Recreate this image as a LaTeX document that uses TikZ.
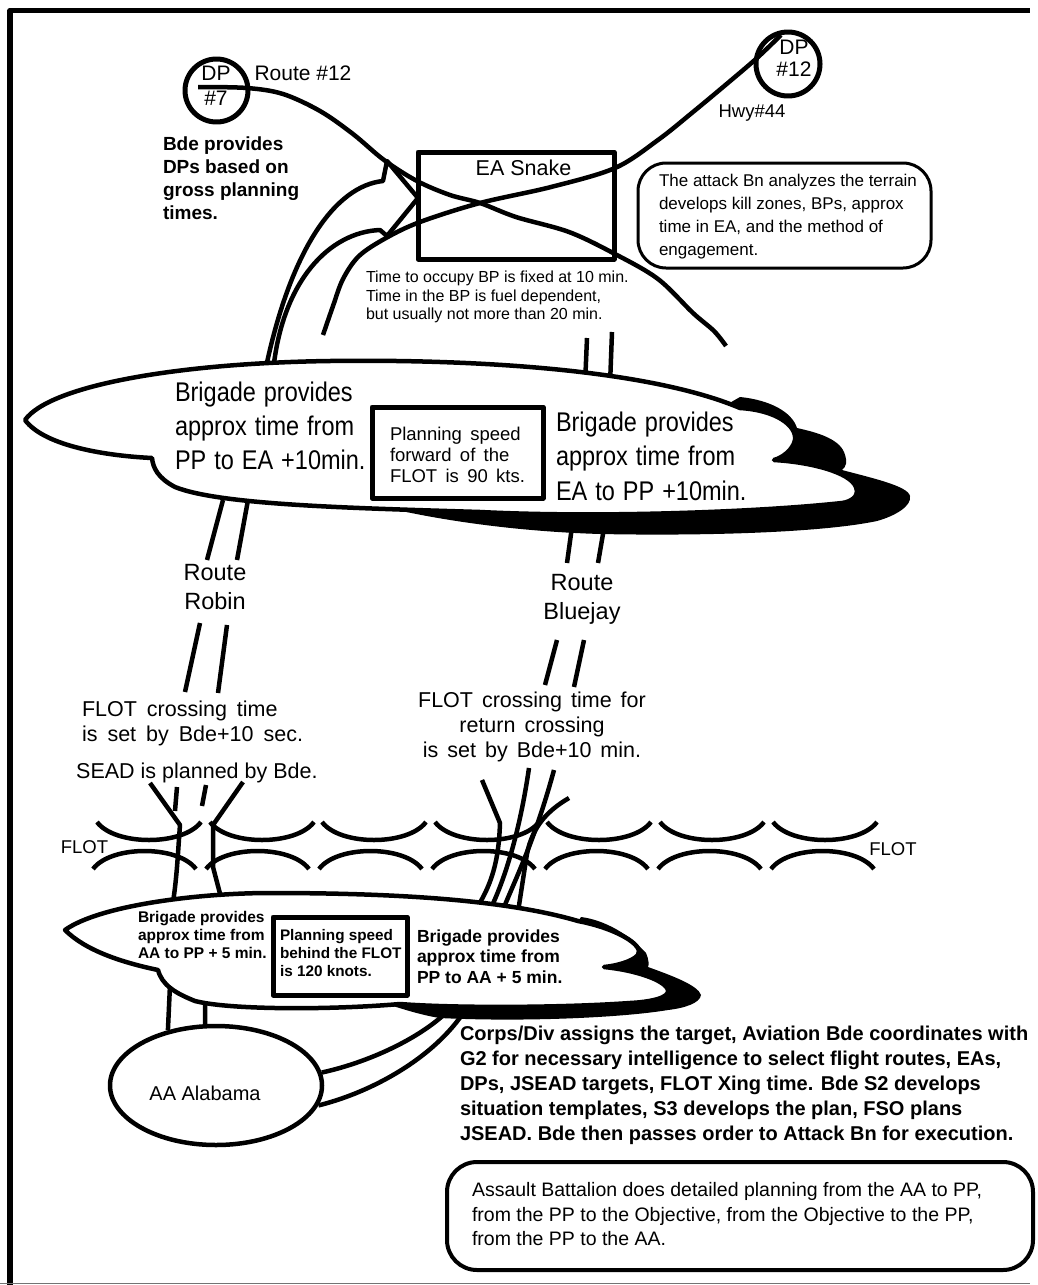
\documentclass[tikz,border=0pt]{standalone}
\usepackage{fontspec}
\setmainfont{Liberation Sans}
\newfontfamily\condfont[FakeStretch=0.87]{Liberation Sans}
\usetikzlibrary{shapes.geometric}
\newcommand\myfs[2]{\fontsize{#1pt}{#2pt}\selectfont}
\newcommand\widesp{\spaceskip=0.45em plus 0.1em\relax}
\begin{document}
\begin{tikzpicture}[x=1pt,y=-1pt,line join=round,
  ln/.style={line width=4.5pt},
  txt/.style={inner sep=0pt,outer sep=0pt,align=left,anchor=west,execute at begin node=\strut,execute at end node=\strut},
  ctxt/.style={inner sep=0pt,outer sep=0pt,align=center,execute at begin node=\strut,execute at end node=\strut},
  btxt/.style={inner sep=0pt,outer sep=0pt,anchor=base},
  boxnode/.style={draw,line width=5pt,inner sep=0pt,fill=white}]
\path[use as bounding box,fill=white] (0,0) rectangle (1037,1285);
% frame
\draw[line width=5.5pt] (10,1285) -- (10,10.5) -- (1030,10.5);
\draw[line width=1.5pt,black!55] (0,1283.5) -- (1030,1283.5);

% ---------- top routes ----------
\coordinate (r12a) at (198,87);
\coordinate (r12b) at (726,346);
\coordinate (hwya) at (781,35);
\coordinate (hwyb) at (323,335);
\draw[ln] plot[smooth,tension=0.55] coordinates {(r12a) (247,88) (283,94) (320,111) (353,134) (384,160) (417,181) (450,195) (480,203) (516,217) (569,232) (615,254) (658,279) (693,313) (714,331) (r12b)};
\draw[ln] plot[smooth,tension=0.55] coordinates {(hwya) (757,58) (729,82) (693,112) (658,140) (615,168) (551,187) (480,203) (420,222) (386,238) (359,256) (343,279) (333,306) (hwyb)};

% open arrow toward EA
\coordinate (arrtip) at (418,198);
\coordinate (arrU) at (387,161);
\coordinate (arrUb) at (383,181);
\coordinate (arrL) at (387,236);
\coordinate (arrLb) at (380,230);
\coordinate (arrE1) at (265,372);
\coordinate (arrE2) at (273,372);
\draw[ln] (arrE1) .. controls (290,250) and (335,186) .. (arrUb) -- (arrU) -- (arrtip) -- (arrL) -- (arrLb) .. controls (330,232) and (282,280) .. (arrE2);

% short route lines touching the big cloud
\coordinate (bq1a) at (587,338); \coordinate (bq1b) at (585,385);
\coordinate (bq2a) at (612,332); \coordinate (bq2b) at (610,385);
\draw[ln] (bq1a) -- (bq1b);
\draw[ln] (bq2a) -- (bq2b);
\coordinate (rb1a) at (223,500); \coordinate (rb1b) at (207,560);
\coordinate (rb2a) at (248,500); \coordinate (rb2b) at (237,560);
\draw[ln] (rb1a) -- (rb1b);
\draw[ln] (rb2a) -- (rb2b);
\coordinate (bj1a) at (575,505); \coordinate (bj1b) at (567,563);
\coordinate (bj2a) at (608,505); \coordinate (bj2b) at (598,563);
\draw[ln] (bj1a) -- (bj1b);
\draw[ln] (bj2a) -- (bj2b);
% lower route dashes
\coordinate (rb3a) at (200,623); \coordinate (rb3b) at (185,692);
\coordinate (rb4a) at (227,625); \coordinate (rb4b) at (218,693);
\draw[ln] (rb3a) -- (rb3b);
\draw[ln] (rb4a) -- (rb4b);
\coordinate (bj3a) at (557,640); \coordinate (bj3b) at (545,685);
\coordinate (bj4a) at (584,640); \coordinate (bj4b) at (574,687);
\draw[ln] (bj3a) -- (bj3b);
\draw[ln] (bj4a) -- (bj4b);

% ---------- big cloud ----------
\fill[black] (700,420) -- (740,397) .. controls (770,400) and (792,412) .. (797,428) .. controls (815,432) and (838,438) .. (844,452) .. controls (848,462) and (846,467) .. (842,470) .. controls (872,478) and (908,486) .. (910,496) .. controls (912,506) and (895,516) .. (877,521) .. controls (820,533) and (700,536) .. (600,534) .. controls (500,531) and (420,516) .. (380,506) -- (600,480) -- cycle;
\filldraw[fill=white,line width=4.5pt] (25,420) .. controls (50,385) and (180,363) .. (330,361) .. controls (480,359) and (650,370) .. (740,408) .. controls (775,410) and (797,425) .. (795,440) .. controls (793,450) and (782,458) .. (774,460) .. controls (810,462) and (850,472) .. (856,487) .. controls (860,497) and (850,502) .. (842,503) .. controls (760,512) and (600,518) .. (480,512) .. controls (350,508) and (220,505) .. (175,487) .. controls (158,478) and (153,468) .. (152,458) .. controls (110,456) and (45,447) .. (25,420) -- cycle;

% ---------- FLOT ----------
\foreach \l in {97,210,322,435,547,660,773} {
  \draw[ln] (\l,822) .. controls ({\l+18},846) and ({\l+86},846) .. ({\l+104},822);
}
\foreach \l in {93,206,319,432,545,658,771} {
  \draw[ln] (\l,869) .. controls ({\l+18},845) and ({\l+85},845) .. ({\l+103},869);
}
% SEAD / crossing lines (left)
\coordinate (sAa) at (150,783); \coordinate (sAb) at (172,908);
\draw[ln] (sAa) -- (180,825) .. controls (178,850) and (177,880) .. (sAb);
\coordinate (sBa) at (177,787); \coordinate (sBb) at (175,811);
\draw[ln] (sBa) -- (sBb);
\coordinate (sCa) at (206,785); \coordinate (sCb) at (202,806);
\draw[ln] (sCa) -- (sCb);
\coordinate (sDa) at (243,782); \coordinate (sDb) at (223,905);
\draw[ln] (sDa) -- (213,825) -- (213,867) -- (sDb);
% crossing lines (right)
\coordinate (cEa) at (482,780); \coordinate (cEb) at (474,912);
\draw[ln] (cEa) -- (500,823) .. controls (499,850) and (496,880) .. (cEb);
\coordinate (cFa) at (529,768); \coordinate (cFb) at (489,912);
\draw[ln] (cFa) .. controls (520,830) and (505,880) .. (cFb);
\coordinate (cGa) at (554,770); \coordinate (cGb) at (502,912);
\draw[ln] (cGa) .. controls (535,840) and (515,880) .. (cGb);
\coordinate (cHa) at (569,798); \coordinate (cHb) at (518,912);
\draw[ln] (cHa) .. controls (545,812) and (530,830) .. (526,860) -- (cHb);

% ---------- AA Alabama and its links ----------
\node[draw,ellipse,line width=4.5pt,minimum width=212pt,minimum height=119pt,inner sep=0pt] (aa) at (216,1085.5) {};
\coordinate (aal1) at (170,985); \coordinate (aal2) at (205,995);
\draw[ln] (aa.131) -- (aal1);
\draw[ln] (aa.100) -- (aal2);
\coordinate (aac1) at (458,1000); \coordinate (aac2) at (471,1000);
\draw[ln] (aa.7) .. controls (370,1062) and (430,1035) .. (aac1);
\draw[ln] (aa.-11) .. controls (380,1090) and (445,1050) .. (aac2);

% ---------- small cloud ----------
\fill[black] (560,950) -- (581,917) .. controls (605,920) and (630,935) .. (646,953) .. controls (649,960) and (649,965) .. (648,967) .. controls (670,975) and (698,985) .. (701,995) .. controls (700,1003) and (685,1008) .. (668,1010) .. controls (620,1018) and (520,1022) .. (440,1018) .. controls (420,1015) and (400,1008) .. (383,1003) -- (500,980) -- cycle;
\filldraw[fill=white,line width=4.5pt] (65,930) .. controls (100,905) and (200,893) .. (270,893) .. controls (380,893) and (500,898) .. (578,921) .. controls (615,928) and (645,945) .. (638,955) .. controls (632,962) and (615,966) .. (604,967) .. controls (635,970) and (665,980) .. (668,990) .. controls (670,998) and (650,1002) .. (630,1003) .. controls (560,1008) and (450,1008) .. (400,1004) .. controls (330,1010) and (230,1010) .. (195,1001) .. controls (175,993) and (162,985) .. (158,970) .. controls (120,962) and (85,950) .. (65,930) -- cycle;

% ---------- boxes and circles ----------
\node[draw,line width=5pt,minimum width=196pt,minimum height=107pt,inner sep=0pt] (easnake) at (516,205.5) {};
\node[draw,circle,line width=5pt,minimum size=63pt,inner sep=0pt] (dp7) at (216.5,90.5) {};
\node[draw,circle,line width=5pt,minimum size=64pt,inner sep=0pt] (dp12) at (788,64) {};
\node[draw,line width=3pt,rounded corners=28pt,minimum width=293pt,minimum height=105pt,inner sep=0pt] (attackbox) at (784.5,215.5) {};
\node[boxnode,minimum width=171pt,minimum height=91pt] (fwdbox) at (457.5,452.5) {};
\node[boxnode,minimum width=134pt,minimum height=78pt] (behindbox) at (340,956) {};
\node[draw,line width=4pt,rounded corners=30pt,minimum width=586pt,minimum height=108pt,inner sep=0pt] (assaultbox) at (740,1216) {};

% ---------- texts ----------
\node[ctxt,font=\myfs{21}{25}] (dp7t) at (216,89.5) {DP\\\#7};
\node[ctxt,font=\myfs{21}{22}] (dp12t) at (794,61.6) {DP\\\#12};
\node[btxt,font=\myfs{21}{25}] (r12lbl) at (303,80) {Route \#12};
\node[btxt,font=\myfs{18.5}{22}] (hwylbl) at (752,117) {Hwy\#44};
\node[btxt,font=\myfs{21.5}{25}] (eatxt) at (523.5,175) {EA Snake};
\node[txt,font=\myfs{19}{23}\bfseries] (bdedp) at (163,181.9) {Bde provides\\DPs based on\\gross planning\\times.};
\node[txt,font=\myfs{16}{18.5}] (occupy) at (366,298.3) {Time to occupy BP is fixed at 10 min.\\Time in the BP is fuel dependent,\\but usually not more than 20 min.};
\node[txt,font=\myfs{17}{23}] (attacktxt) at (659,218.4) {The attack Bn analyzes the terrain\\develops kill zones, BPs, approx\\time in EA, and the method of\\engagement.};

\node[txt,font={\condfont\myfs{27}{34}\spaceskip=8pt plus 1pt\relax}] (bigl) at (175,431) {Brigade provides\\approx time from\\PP to EA +10min.};
\node[txt,font={\condfont\myfs{27}{34.5}\spaceskip=8pt plus 1pt\relax}] (bigr) at (556,461) {Brigade provides\\approx time from\\EA to PP +10min.};
\node[txt,font=\myfs{18.5}{21}\widesp] (fwdtxt) at (390,458) {Planning speed\\forward of the\\FLOT is 90 kts.};

\node[ctxt,font=\myfs{23.5}{29}] (robin) at (215,591.7) {Route\\Robin};
\node[ctxt,font=\myfs{23.5}{29}] (bluejay) at (582,601.7) {Route\\Bluejay};

\node[txt,font={\myfs{21.5}{25}\spaceskip=10pt plus 1pt\relax}] (flotl) at (82,724.5) {FLOT crossing time\\is set by Bde+10 sec.};
\node[inner sep=0pt,anchor=base west,font=\myfs{21.5}{25}] (sead) at (76,778) {SEAD is planned by Bde.};
\node[ctxt,font={\myfs{21.5}{25}\spaceskip=9pt plus 1pt\relax}] (flotr) at (532,728.7) {FLOT crossing time for\\return crossing\\is set by Bde+10 min.};
\node[btxt,font=\myfs{18.5}{22}] (flotlbl1) at (84.5,853) {FLOT};
\node[btxt,font=\myfs{18.5}{22}] (flotlbl2) at (893,855) {FLOT};

\node[txt,font=\myfs{15.5}{18}\bfseries] (smalll) at (138,937.4) {Brigade provides\\approx time from\\AA to PP + 5 min.};
\node[txt,font=\myfs{15.3}{18}\bfseries] (behindtxt) at (280,955.4) {Planning speed\\behind the FLOT\\is 120 knots.};
\node[txt,font=\myfs{17.5}{20.5}\bfseries] (smallr) at (417,959.6) {Brigade provides\\approx time from\\PP to AA + 5 min.};

\node[btxt,font=\myfs{20}{24}] (aatxt) at (205,1100) {AA Alabama};
\node[txt,font=\myfs{20}{25}\bfseries] (corps) at (460,1087) {Corps/Div assigns the target, Aviation Bde coordinates with\\G2 for necessary intelligence to select flight routes, EAs,\\DPs, JSEAD targets, FLOT Xing time. Bde S2 develops\\situation templates, S3 develops the plan, FSO plans\\JSEAD. Bde then passes order to Attack Bn for execution.};
\node[txt,font=\myfs{19.5}{24.5}] (assaulttxt) at (472,1217.8) {Assault Battalion does detailed planning from the AA to PP,\\from the PP to the Objective, from the Objective to the PP,\\from the PP to the AA.};
\end{tikzpicture}
\end{document}
